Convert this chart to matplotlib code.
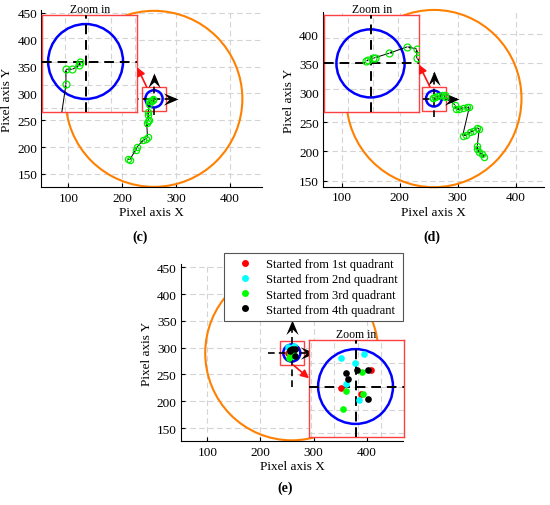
import numpy as np
import matplotlib
matplotlib.use('Agg')
import matplotlib.pyplot as plt
from matplotlib.patches import Circle, Rectangle, ConnectionPatch
from matplotlib.path import Path
from matplotlib.lines import Line2D

plt.rcParams['font.family'] = ['Liberation Serif', 'DejaVu Serif']

# ---------------- data ----------------
target = (259, 290)                # goal point (image centre)

# (c) trajectory
traj_c_x = [210, 214, 225, 227, 239, 244, 247, 245.5, 247.5, 249, 248, 248.5,
            250.6, 250.6, 253.4, 256.3, 256.6]
traj_c_y = [178, 176.5, 195, 199.5, 213.5, 215.5, 218, 245, 248, 251, 260.5, 266,
            280.2, 286.7, 286.7, 288.4, 290]

# (d) trajectory
traj_d_x = [345.3, 341.4, 337.2, 333.8, 333.8, 337.2, 333.8, 326.9, 321.2, 314.3,
            308.6, 320, 315.5, 309.7, 302.8, 297.1, 295.3, 277.3, 277.3, 273.6,
            266.3, 260.8, 260.1, 258.1, 257.2]
traj_d_y = [191, 195.6, 198.5, 204.1, 209.7, 238.2, 239.9, 235.3, 232.5, 228.5,
            226.7, 275.1, 275.1, 273.9, 272.2, 272.2, 279.6, 292, 295.7, 296.6,
            294, 292.3, 292, 291.3, 290.9]

# (e) final positions, by starting quadrant
q1_x = [265.6, 252.8, 261.4]
q1_y = [297.1, 289.4, 286.8]
q2_x = [252.8, 262.6, 258.8, 254.8, 260.6]
q2_y = [302.1, 303.9, 299.9, 291.1, 284.4]
q3_x = [261.6, 254.8, 262.3, 253.8]
q3_y = [296.1, 288.2, 286.8, 280.4]
q4_x = [259.8, 264.5, 254.8, 255.7, 264.5]
q4_y = [297.1, 297.1, 295.8, 293.2, 284.7]
legend_labels = ['Started from 1st quadrant', 'Started from 2nd quadrant',
                 'Started from 3rd quadrant', 'Started from 4th quadrant']
quad_colors = ['#ff0000', '#00ffff', '#00ff00', '#000000']

start_radius = {'c': 164, 'd': 151, 'e': 163}
goal_radius = {'c': 16, 'd': 13.5, 'e': 16}

ticks_x = [100, 200, 300, 400]
ticks_y_ce = [150, 200, 250, 300, 350, 400, 450]
ticks_y_d = [150, 200, 250, 300, 350, 400]

# ---------------- layout helpers ----------------
W, H = 550, 506
fig = plt.figure(figsize=(W / 100, H / 100), dpi=100)


def rect(x0, x1, y0, y1):
    return [x0 / W, 1 - y1 / H, (x1 - x0) / W, (y1 - y0) / H]


GREEN = '#00ee00'
ORANGE = '#ff8000'
RED = '#ff4040'
GRID = '#d4d4d4'

head_r = Path([(0, 0), (-1, 0.42), (-0.6, 0), (-1, -0.42), (0, 0)],
              [Path.MOVETO, Path.LINETO, Path.LINETO, Path.LINETO, Path.CLOSEPOLY])
head_u = Path([(0, 0), (0.42, -1), (0, -0.6), (-0.42, -1), (0, 0)],
              [Path.MOVETO, Path.LINETO, Path.LINETO, Path.LINETO, Path.CLOSEPOLY])


def setup_main(ax, xlim, ylim, yticks):
    ax.set_xlim(xlim)
    ax.set_ylim(ylim)
    ax.set_xticks(ticks_x)
    ax.set_yticks(yticks)
    for s in ['top', 'right']:
        ax.spines[s].set_visible(False)
    for s in ['left', 'bottom']:
        ax.spines[s].set_linewidth(0.8)
    ax.tick_params(direction='in', length=3, width=0.8, labelsize=9.5, pad=3)
    ax.grid(True, color=GRID, ls=(0, (5, 3)), lw=0.8)
    ax.set_axisbelow(True)
    ax.set_xlabel('Pixel axis X', fontsize=9.5, labelpad=2)
    ax.set_ylabel('Pixel axis Y', fontsize=9.5, labelpad=3)


def draw_goal(ax, key, half, hx, vy):
    cx, cy = target
    ax.add_patch(Circle(target, start_radius[key], fill=False, ec=ORANGE, lw=1.5,
                        clip_on=False, zorder=2))
    ax.add_patch(Circle(target, goal_radius[key], fill=False, ec='#0000ff', lw=1.8, zorder=4))
    ax.add_patch(Rectangle((cx - half, cy - half), 2 * half, 2 * half, fill=False,
                           ec=RED, lw=1.0, zorder=4))
    ax.plot([cx + hx[0], cx + hx[1] - 4], [cy, cy], color='k', lw=1.2,
            dashes=(4, 2.5), zorder=5)
    ax.plot([cx, cx], [cy + vy[0], cy + vy[1] - 4], color='k', lw=1.2,
            dashes=(4, 2.5), zorder=5)
    ax.plot([cx + hx[1]], [cy], marker=head_r, ms=21, color='k', mew=0, zorder=6)
    ax.plot([cx], [cy + vy[1]], marker=head_u, ms=21, color='k', mew=0, zorder=6)


def draw_traj(ax, xs, ys, ms):
    xs = np.asarray(xs, float)
    ys = np.asarray(ys, float)
    ax.quiver(xs[:-1], ys[:-1], np.diff(xs), np.diff(ys), angles='xy',
              scale_units='xy', scale=1, units='dots', width=1.0, headwidth=3.5,
              headlength=4, headaxislength=3.5, color='k', zorder=5)
    ax.plot(xs, ys, 'o', ms=ms, mfc='none', mec=GREEN, mew=0.9, zorder=6)


def make_inset(r, key, xlim, ylim):
    ins = fig.add_axes(r)
    ins.set_facecolor('white')
    ins.set_xlim(xlim)
    ins.set_ylim(ylim)
    ins.set_xticks(np.arange(np.ceil(xlim[0] / 10) * 10, xlim[1], 10))
    ins.set_yticks(np.arange(np.ceil(ylim[0] / 10) * 10, ylim[1], 10))
    ins.tick_params(length=0, labelbottom=False, labelleft=False)
    ins.grid(True, color=GRID, ls=(0, (5, 3)), lw=0.8)
    ins.set_axisbelow(True)
    for s in ins.spines.values():
        s.set_color(RED)
        s.set_linewidth(1.0)
    ins.set_title('Zoom in', fontsize=8.5, pad=2)
    ins.add_patch(Circle(target, goal_radius[key], fill=False, ec='#0000ff', lw=1.8, zorder=3))
    ins.axvline(target[0], color='k', lw=1.4, dashes=(5, 3), zorder=4)
    ins.axhline(target[1], color='k', lw=1.4, dashes=(5, 3), zorder=4)
    return ins


def red_link(ax, ins, xyA, xyB):
    con = ConnectionPatch(xyA=xyA, xyB=xyB, coordsA=ax.transData, coordsB=ins.transAxes,
                          arrowstyle='-|>', color='#ff1010', lw=1.2, mutation_scale=12,
                          shrinkA=0, shrinkB=0, zorder=10)
    fig.add_artist(con)


cx, cy = target

# ---------------- (c) ----------------
ax_c = fig.add_axes(rect(41.35, 262.3, 11.3, 188.4))
setup_main(ax_c, (50, 460), (125, 455), ticks_y_ce)
draw_goal(ax_c, 'c', 22, (-41, 45), (-31, 49))
draw_traj(ax_c, traj_c_x, traj_c_y, 4.5)
ins_c = make_inset(rect(42.3, 137.3, 15.7, 113.3), 'c',
                   (cx - 18.5, cx + 22.1), (cy - 21.7, cy + 20))
draw_traj(ins_c, traj_c_x, traj_c_y, 5)
red_link(ax_c, ins_c, (cx - 13.5, cy + 22), (1.0, 0.46))

# ---------------- (d) ----------------
ax_d = fig.add_axes(rect(323.1, 544.1, 12.7, 188.2))
setup_main(ax_d, (68, 449), (139, 438), ticks_y_d)
draw_goal(ax_d, 'd', 20.5, (-37, 44), (-32, 47.5))
draw_traj(ax_d, traj_d_x, traj_d_y, 4.5)
ins_d = make_inset(rect(324.3, 419.0, 16.0, 113.3), 'd',
                   (cx - 18.3, cx + 19.2), (cy - 19.4, cy + 19.2))
draw_traj(ins_d, traj_d_x, traj_d_y, 5)
red_link(ax_d, ins_d, (cx - 7, cy + 20.5), (1.0, 0.49))

# ---------------- (e) ----------------
ax_e = fig.add_axes(rect(180.8, 403.3, 265.1, 442.4))
setup_main(ax_e, (50, 469), (125, 456), ticks_y_ce)
draw_goal(ax_e, 'e', 22.5, (-44, 44), (-63, 61))
ins_e = make_inset(rect(309.0, 403.5, 341.0, 438.0), 'e',
                   (cx - 19.9, cx + 20.5), (cy - 21.6, cy + 19.9))
groups = [(q1_x, q1_y), (q2_x, q2_y), (q3_x, q3_y), (q4_x, q4_y)]
handles = []
for (gx, gy), col, lab in zip(groups, quad_colors, legend_labels):
    ax_e.plot(gx, gy, 'o', ms=4.8, color=col, mew=0, zorder=7)
    ins_e.plot(gx, gy, 'o', ms=4.8, color=col, mew=0, zorder=5)
    handles.append(Line2D([], [], ls='none', marker='o', ms=5, color=col, mew=0, label=lab))
red_link(ax_e, ins_e, (cx + 3, cy - 22.5), (0.0, 0.605))

leg = ax_e.legend(handles=handles, loc='upper right',
                  bbox_to_anchor=(403 / W, 1 - 254 / H), bbox_transform=fig.transFigure,
                  borderaxespad=0, fontsize=9, frameon=True, fancybox=False,
                  edgecolor='#555555', framealpha=1, handlelength=2.6,
                  handletextpad=0.4, labelspacing=0.26, borderpad=0.4)
leg.get_frame().set_linewidth(0.8)
leg.set_zorder(20)

# ---------------- panel labels ----------------
fig.text(140 / W, 1 - 237 / H, '(c)', ha='center', va='center', fontsize=10, fontweight='bold')
fig.text(431.7 / W, 1 - 237 / H, '(d)', ha='center', va='center', fontsize=10, fontweight='bold')
fig.text(285 / W, 1 - 488 / H, '(e)', ha='center', va='center', fontsize=10, fontweight='bold')

fig.savefig('out.png', dpi=100)
